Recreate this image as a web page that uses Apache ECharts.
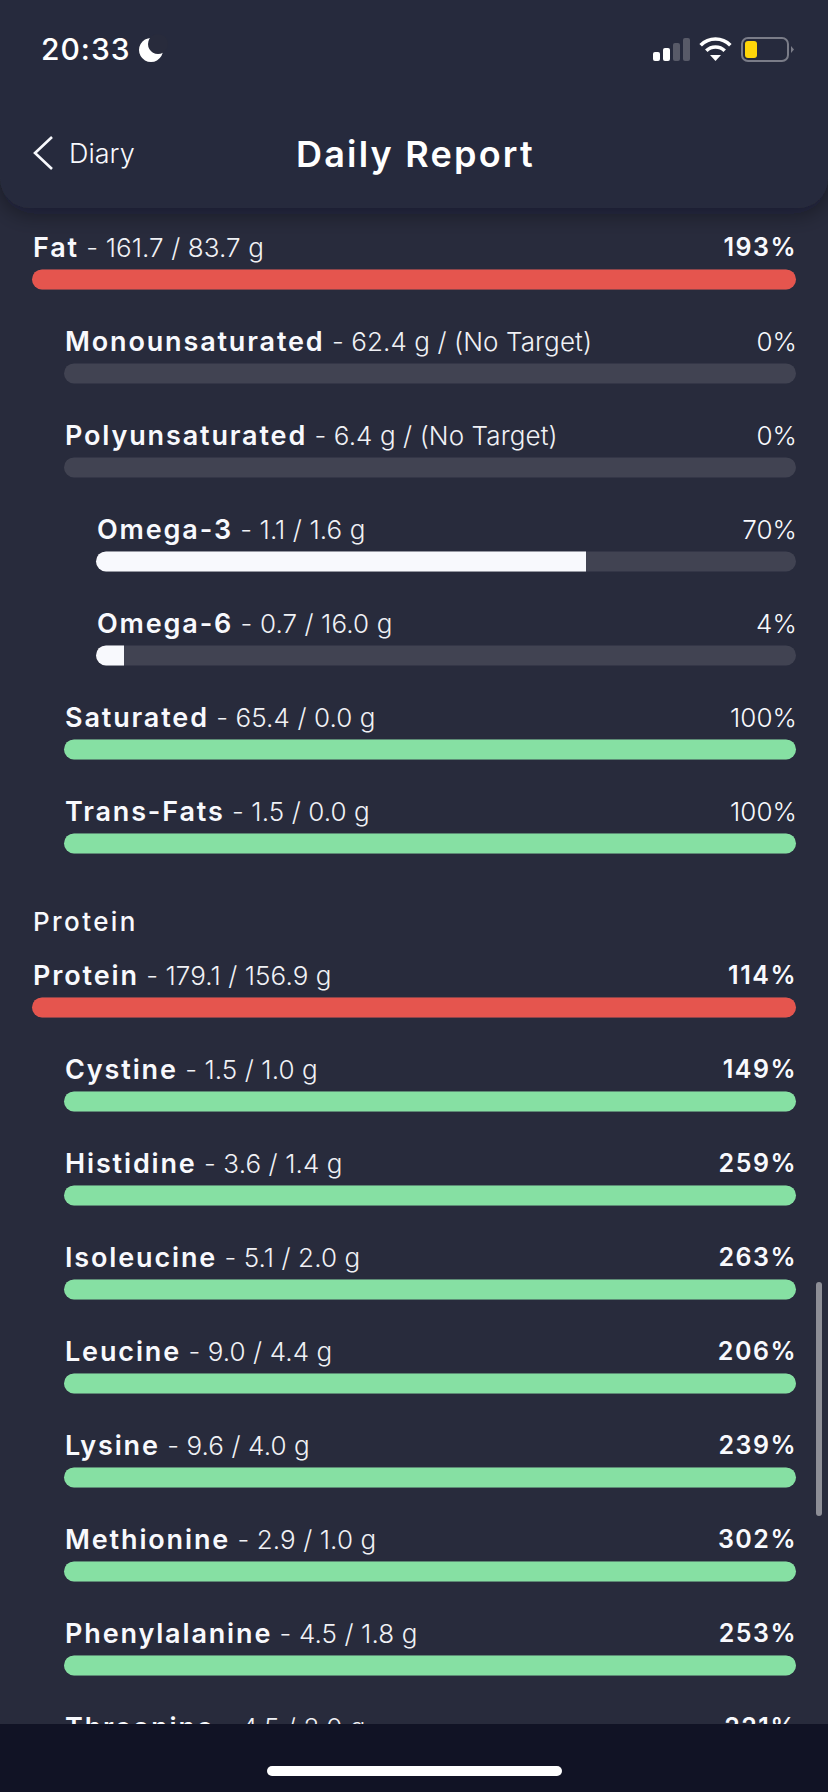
<!DOCTYPE html>
<html>
<head>
<meta charset="utf-8">
<style>
html, body { margin: 0; padding: 0; background: #282b3c; }
#main { width: 828px; height: 1792px; }
</style>
<script src="https://cdn.jsdelivr.net/npm/echarts@6/dist/echarts.min.js"></script>
</head>
<body>
<div id="main"></div>
<script>
var names = ['Fat', 'Monounsaturated', 'Polyunsaturated', 'Omega-3', 'Omega-6', 'Saturated', 'Trans-Fats',
    'Protein', 'Cystine', 'Histidine', 'Isoleucine', 'Leucine', 'Lysine', 'Methionine', 'Phenylalanine', 'Threonine'];
var amounts = ['161.7 / 83.7 g', '62.4 g / (No Target)', '6.4 g / (No Target)', '1.1 / 1.6 g', '0.7 / 16.0 g', '65.4 / 0.0 g', '1.5 / 0.0 g',
    '179.1 / 156.9 g', '1.5 / 1.0 g', '3.6 / 1.4 g', '5.1 / 2.0 g', '9.0 / 4.4 g', '9.6 / 4.0 g', '2.9 / 1.0 g', '4.5 / 1.8 g', '4.5 / 2.0 g'];
var percents = [193, 0, 0, 70, 4, 100, 100, 114, 149, 259, 263, 206, 239, 302, 253, 221];
var levels = [0, 1, 1, 2, 2, 1, 1, 0, 1, 1, 1, 1, 1, 1, 1, 1];
var barStates = ['over', 'none', 'none', 'partial', 'partial', 'good', 'good', 'over', 'good', 'good', 'good', 'good', 'good', 'good', 'good', 'good'];

var stateColors = { over: '#e5554e', good: '#86e0a3', partial: '#f8f9fd', none: '#414352' };
var bg = '#282b3c';
var font = 'Inter';

// the app's font is wider than Inter, so text gets letter spacing per weight + size
var spacing = { '600 27px': 1.85, '600 25px': 1.5, '300 26px': 0.1, '500 26px': 2.4, '500 30px': 1, '600 36px': 2.2 };

var measureCtx = document.createElement('canvas').getContext('2d');
echarts.setPlatformAPI({
    measureText: function (text, f) {
        measureCtx.font = f || '12px sans-serif';
        var extra = 0;
        Object.keys(spacing).forEach(function (k) {
            if (f && f.indexOf(k) >= 0) extra = spacing[k];
        });
        return { width: measureCtx.measureText(text).width + extra * text.length };
    }
});

var grids = [], xAxes = [], yAxes = [], series = [], titles = [];

names.forEach(function (name, i) {
    // rows are 94px apart, the Protein heading adds 70px
    var top = 269.4 + i * 94 + (i >= 7 ? 70 : 0);
    var left = 32 + levels[i] * 32;
    grids.push({ left: left, right: 32, top: top, height: 20 });
    xAxes.push({ gridIndex: i, type: 'value', min: 0, max: 100, show: false });
    yAxes.push({ gridIndex: i, type: 'category', data: [name], show: false });
    series.push({
        type: 'bar',
        xAxisIndex: i,
        yAxisIndex: i,
        barWidth: 20,
        silent: true,
        animation: false,
        data: [Math.min(percents[i], 100)],
        showBackground: true,
        backgroundStyle: { color: stateColors.none, borderRadius: 10 },
        itemStyle: {
            color: stateColors[barStates[i]],
            borderRadius: percents[i] >= 100 ? 10 : [10, 0, 0, 10]
        }
    });
    titles.push({
        left: left + 1,
        top: top - 38.4,
        padding: 0,
        text: '{n|' + name + '}{v| - ' + amounts[i] + '}',
        textStyle: {
            rich: {
                n: { fontFamily: font, fontSize: 27, fontWeight: 600, color: '#f8f9fd', lineHeight: 32 },
                v: { fontFamily: font, fontSize: 26, fontWeight: 300, color: '#f0f1f5', lineHeight: 32 }
            }
        }
    });
    titles.push({
        right: 31,
        top: top - 38.4,
        padding: 0,
        text: percents[i] + '%',
        textStyle: {
            fontFamily: font,
            fontSize: percents[i] > 100 ? 25 : 26,
            lineHeight: 32,
            fontWeight: percents[i] > 100 ? 600 : 300,
            color: '#f8f9fd'
        }
    });
});

// section heading and the app's header texts
titles.push({ left: 33, top: 905, padding: 0, text: 'Protein', textStyle: { fontFamily: font, fontSize: 26, fontWeight: 500, color: '#f8f9fd', lineHeight: 32 } });
titles.push({ left: 41, top: 31, padding: 0, text: '20:33', textStyle: { fontFamily: font, fontSize: 30, fontWeight: 500, color: '#fff', lineHeight: 36 } });
titles.push({ left: 69, top: 135, padding: 0, text: 'Diary', textStyle: { fontFamily: font, fontSize: 27, fontWeight: 300, color: '#f8f9fd', lineHeight: 36 } });
titles.push({ left: 296, top: 132, padding: 0, text: 'Daily Report', textStyle: { fontFamily: font, fontSize: 36, fontWeight: 600, color: '#fff', lineHeight: 44 } });

var wifiArc = function (r) {
    return { type: 'arc', z: 7, shape: { cx: 715.5, cy: 60, r: r, startAngle: -Math.PI * 0.75, endAngle: -Math.PI * 0.25, clockwise: true },
        style: { stroke: '#fff', lineWidth: 3.6, fill: null } };
};

var graphic = [
    // header panel
    { type: 'rect', z: 0, shape: { x: 0, y: -40, width: 828, height: 248, r: [0, 0, 30, 30] },
      style: { fill: bg, shadowBlur: 22, shadowColor: 'rgba(10,12,25,0.4)', shadowOffsetY: 6 } },
    // back chevron
    { type: 'polyline', z: 7, shape: { points: [[52, 137], [35, 153], [52, 169]] }, style: { stroke: '#f8f9fd', lineWidth: 2.6, fill: null } },
    // moon
    { type: 'circle', z: 7, shape: { cx: 151, cy: 50, r: 12 }, style: { fill: '#fff' } },
    { type: 'circle', z: 8, shape: { cx: 158, cy: 44, r: 10 }, style: { fill: bg } },
    // signal bars
    { type: 'rect', z: 7, shape: { x: 653, y: 52, width: 7, height: 9, r: 2 }, style: { fill: '#fff' } },
    { type: 'rect', z: 7, shape: { x: 663, y: 48, width: 7, height: 13, r: 2 }, style: { fill: '#fff' } },
    { type: 'rect', z: 7, shape: { x: 673, y: 43, width: 7, height: 18, r: 2 }, style: { fill: '#585a68' } },
    { type: 'rect', z: 7, shape: { x: 683, y: 38, width: 7, height: 23, r: 2 }, style: { fill: '#585a68' } },
    // wifi
    wifiArc(21), wifiArc(13),
    { type: 'polygon', z: 7, shape: { points: [[710, 55], [721, 55], [715.5, 61]] }, style: { fill: '#fff' } },
    // battery
    { type: 'rect', z: 7, shape: { x: 742, y: 38, width: 46, height: 23, r: 6 }, style: { fill: null, stroke: '#7a7c88', lineWidth: 2 } },
    { type: 'rect', z: 7, shape: { x: 745, y: 41, width: 12, height: 17, r: 3 }, style: { fill: '#ffd60a' } },
    { type: 'polygon', z: 7, shape: { points: [[791, 46], [794, 49.5], [791, 53]] }, style: { fill: '#7a7c88' } },
    // scrollbar
    { type: 'rect', z: 7, shape: { x: 816, y: 1282, width: 6, height: 234, r: 3 }, style: { fill: '#8d8e96' } },
    // bottom bar covers the last row
    { type: 'rect', z: 100, shape: { x: 0, y: 1724, width: 828, height: 68 }, style: { fill: '#111325' } },
    { type: 'rect', z: 101, shape: { x: 267, y: 1766, width: 295, height: 10, r: 5 }, style: { fill: '#fff' } }
];

var chart = echarts.init(document.getElementById('main'), null, { renderer: 'svg' });
chart.setOption({
    backgroundColor: bg,
    animation: false,
    title: titles,
    grid: grids,
    xAxis: xAxes,
    yAxis: yAxes,
    series: series,
    graphic: graphic
});

function applySpacing() {
    document.querySelectorAll('#main svg text').forEach(function (el) {
        var cs = getComputedStyle(el);
        var s = spacing[cs.fontWeight + ' ' + cs.fontSize];
        if (s) el.style.letterSpacing = s + 'px';
    });
}
applySpacing();
chart.on('finished', applySpacing);
</script>
</body>
</html>
